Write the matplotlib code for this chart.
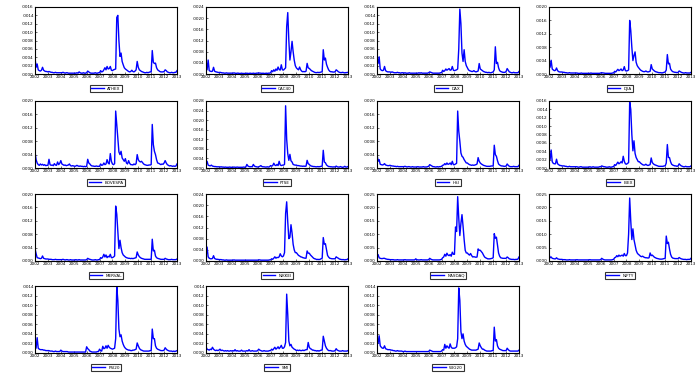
import numpy as np
import matplotlib
matplotlib.use("Agg")
import matplotlib.pyplot as plt
from matplotlib.ticker import FuncFormatter

# monthly readings, Jan 2002 .. Jan 2013, in units of 1e-4
months = np.arange(133)
years = list(range(2002, 2014))

names = ["ATHEX", "CAC40", "DAX", "DJIA", "BOVESPA", "FTSE", "HSI", "IBEX",
         "MERVAL", "NIKKEI", "NASDAQ", "NIFTY", "PSI20", "SMI", "WIG20"]

ymax = [16, 24, 16, 20, 20, 28, 20, 16, 20, 24, 25, 25, 14, 14, 14]
ystep = [2, 4, 2, 4, 4, 4, 4, 2, 4, 4, 5, 5, 2, 2, 2]

s1 = [3.8, 1.6, 2.4, 1.0, 0.8, 0.7, 0.9, 1.6, 0.9, 0.7, 0.6, 0.6,
      0.5, 0.6, 0.5, 0.4, 0.4, 0.3, 0.3, 0.4, 0.3, 0.3, 0.3, 0.3,
      0.3, 0.3, 0.4, 0.3, 0.2, 0.3, 0.3, 0.2, 0.2, 0.2, 0.2, 0.2,
      0.2, 0.2, 0.2, 0.3, 0.2, 0.5, 0.3, 0.2, 0.2, 0.3, 0.2, 0.2,
      0.3, 0.7, 0.5, 0.3, 0.2, 0.2, 0.2, 0.2, 0.3, 0.2, 0.2, 0.3,
      0.3, 0.8, 0.5, 0.6, 1.0, 1.5, 1.0, 1.8, 1.2, 1.3, 1.8, 0.9,
      0.8, 1.0, 1.1, 1.2, 13.5, 14.0, 8.0, 4.2, 5.0, 3.0, 2.2, 1.5,
      1.2, 1.0, 0.8, 0.6, 0.5, 0.6, 0.9, 0.6, 0.5, 0.7, 1.0, 3.0,
      1.6, 1.0, 0.8, 0.6, 0.5, 0.4, 0.3, 0.3, 0.4, 0.3, 0.4, 0.5,
      0.5, 5.6, 2.8, 2.5, 2.6, 1.5, 1.0, 0.8, 0.6, 0.5, 0.5, 0.5,
      0.6, 1.0, 0.8, 0.5, 0.4, 0.3, 0.3, 0.4, 0.3, 0.3, 0.4, 0.4,
      0.8]

s2 = [3.0, 1.5, 5.0, 1.2, 1.0, 0.9, 1.0, 2.4, 1.0, 0.8, 0.7, 0.6,
      0.5, 0.6, 0.5, 0.4, 0.4, 0.3, 0.3, 0.4, 0.3, 0.3, 0.3, 0.3,
      0.3, 0.3, 0.4, 0.3, 0.2, 0.3, 0.3, 0.2, 0.2, 0.3, 0.2, 0.2,
      0.2, 0.2, 0.3, 0.2, 0.2, 0.3, 0.2, 0.2, 0.3, 0.2, 0.2, 0.3,
      0.3, 0.4, 0.3, 0.3, 0.2, 0.3, 0.2, 0.2, 0.3, 0.2, 0.3, 0.3,
      0.4, 1.2, 0.8, 1.5, 1.0, 1.8, 1.3, 2.5, 1.6, 1.4, 3.3, 1.5,
      1.4, 1.8, 2.2, 17.0, 22.0, 12.0, 5.0, 8.0, 11.7, 8.0, 5.0, 3.0,
      2.2, 1.8, 1.5, 2.5, 1.5, 1.0, 0.8, 0.9, 0.8, 1.0, 3.8, 2.2,
      2.0, 1.6, 1.2, 1.0, 0.8, 0.6, 0.5, 0.5, 0.6, 0.5, 0.6, 0.7,
      0.8, 8.7, 5.0, 5.7, 3.5, 2.4, 1.5, 1.0, 0.8, 0.8, 0.7, 0.7,
      0.8, 1.5, 1.2, 0.8, 0.6, 0.5, 0.5, 0.6, 0.5, 0.4, 0.5, 0.5,
      0.6]

s3 = [3.5, 2.5, 4.1, 1.2, 0.9, 0.8, 0.9, 1.8, 0.8, 0.6, 0.5, 0.5,
      0.5, 0.4, 0.5, 0.4, 0.3, 0.3, 0.3, 0.4, 0.3, 0.3, 0.2, 0.3,
      0.3, 0.2, 0.3, 0.2, 0.2, 0.2, 0.3, 0.2, 0.2, 0.2, 0.2, 0.2,
      0.2, 0.2, 0.2, 0.3, 0.2, 0.3, 0.2, 0.2, 0.2, 0.2, 0.2, 0.2,
      0.3, 0.5, 0.4, 0.3, 0.2, 0.2, 0.2, 0.2, 0.2, 0.2, 0.2, 0.3,
      0.3, 0.9, 0.6, 0.8, 1.2, 0.9, 1.1, 1.3, 0.9, 1.0, 1.8, 0.9,
      0.8, 0.9, 1.0, 1.2, 6.0, 15.5, 12.0, 5.0, 3.0, 5.8, 3.0, 2.0,
      1.5, 1.0, 0.8, 0.7, 0.6, 0.6, 0.8, 0.6, 0.5, 0.6, 0.7, 2.5,
      1.2, 1.0, 0.8, 0.6, 0.5, 0.4, 0.4, 0.3, 0.4, 0.3, 0.3, 0.4,
      0.5, 1.0, 6.5, 2.5, 2.8, 1.5, 0.8, 0.6, 0.5, 0.4, 0.4, 0.4,
      0.6, 1.3, 0.9, 0.5, 0.4, 0.3, 0.3, 0.4, 0.3, 0.3, 0.3, 0.3,
      0.6]

s4 = [3.4, 2.0, 4.1, 1.5, 1.2, 1.0, 1.1, 1.8, 1.0, 0.7, 0.6, 0.6,
      0.6, 0.5, 0.5, 0.4, 0.4, 0.3, 0.3, 0.4, 0.3, 0.3, 0.3, 0.3,
      0.3, 0.3, 0.3, 0.2, 0.2, 0.2, 0.3, 0.2, 0.2, 0.2, 0.2, 0.2,
      0.2, 0.2, 0.2, 0.3, 0.2, 0.2, 0.2, 0.2, 0.2, 0.2, 0.2, 0.2,
      0.3, 0.4, 0.3, 0.3, 0.2, 0.2, 0.2, 0.2, 0.2, 0.2, 0.2, 0.3,
      0.3, 0.8, 0.6, 1.0, 1.4, 1.0, 1.2, 1.5, 1.0, 1.2, 2.2, 1.0,
      0.9, 1.0, 1.2, 16.0, 13.0, 8.0, 4.0, 5.5, 6.6, 3.5, 2.5, 2.0,
      1.6, 1.2, 1.0, 0.8, 0.7, 0.7, 0.9, 0.7, 0.6, 0.7, 0.8, 2.8,
      1.5, 1.2, 0.9, 0.7, 0.6, 0.5, 0.4, 0.4, 0.4, 0.3, 0.4, 0.5,
      0.6, 1.2, 5.8, 3.0, 3.2, 1.5, 1.0, 0.7, 0.6, 0.5, 0.5, 0.4,
      0.5, 0.9, 0.7, 0.5, 0.4, 0.3, 0.3, 0.4, 0.3, 0.3, 0.3, 0.3,
      0.5]

s5 = [4.8, 2.5, 1.5, 1.0, 0.8, 1.2, 0.9, 1.1, 0.8, 1.0, 0.7, 0.8,
      0.8, 2.6, 1.0, 0.8, 0.9, 0.7, 1.3, 0.9, 0.8, 1.8, 1.0, 1.4,
      2.2, 1.2, 1.0, 0.8, 0.9, 0.7, 0.8, 0.9, 1.2, 0.7, 0.6, 0.7,
      0.6, 0.5, 0.6, 0.8, 0.6, 0.5, 0.6, 0.5, 0.5, 0.4, 0.5, 0.4,
      0.5, 2.6, 1.5, 1.2, 0.8, 0.6, 0.6, 0.5, 0.5, 0.6, 0.5, 0.5,
      0.5, 1.2, 0.8, 0.9, 1.5, 1.0, 1.2, 2.5, 1.5, 1.2, 4.3, 2.0,
      1.2, 1.0, 1.3, 17.0, 13.0, 9.0, 4.8, 4.0, 5.0, 3.0, 2.5, 2.0,
      2.8, 1.5, 1.2, 2.2, 1.4, 1.0, 1.0, 0.9, 1.2, 1.0, 1.3, 4.0,
      2.5, 2.0, 1.8, 2.0, 1.6, 1.2, 1.0, 0.9, 0.8, 0.8, 0.9, 0.9,
      1.0, 13.0, 7.0, 5.0, 4.0, 2.5, 1.5, 1.4, 1.2, 1.0, 1.2, 1.1,
      1.5, 2.2, 1.5, 1.0, 0.8, 0.6, 0.7, 0.6, 0.5, 0.6, 0.5, 0.6,
      1.2]

s6 = [1.2, 2.8, 1.2, 1.0, 0.9, 1.2, 0.8, 0.7, 0.6, 0.6, 0.5, 0.5,
      0.5, 0.4, 0.5, 0.4, 0.4, 0.3, 0.4, 0.3, 0.3, 0.3, 0.4, 0.3,
      0.3, 0.3, 0.4, 0.3, 0.3, 0.4, 0.3, 0.3, 0.3, 0.3, 0.3, 0.4,
      0.3, 0.4, 1.5, 0.8, 0.6, 0.5, 0.6, 0.5, 1.5, 0.8, 0.6, 0.5,
      0.4, 0.5, 0.7, 1.0, 0.6, 0.5, 0.5, 0.4, 0.4, 0.5, 0.4, 0.5,
      1.0, 0.8, 1.0, 2.0, 1.2, 1.0, 1.5, 1.0, 2.8, 1.3, 1.0, 1.2,
      1.2, 1.5, 26.0, 12.0, 6.0, 3.2, 5.7, 3.0, 2.5, 1.5, 1.3, 1.2,
      1.2, 1.0, 1.0, 0.9, 0.8, 0.8, 0.7, 0.8, 0.7, 0.8, 3.2, 1.8,
      1.5, 1.0, 0.8, 0.7, 0.6, 0.6, 0.5, 0.5, 0.6, 0.5, 0.6, 0.7,
      0.8, 7.4, 2.5, 2.2, 1.3, 0.9, 0.6, 0.6, 0.5, 0.5, 0.4, 0.5,
      0.4, 0.8, 0.5, 0.4, 0.4, 0.6, 0.4, 0.3, 0.4, 0.7, 0.4, 0.4,
      0.6]

s7 = [4.1, 2.0, 2.5, 1.1, 1.0, 0.9, 1.0, 1.3, 0.9, 0.8, 0.7, 0.7,
      0.8, 0.7, 0.6, 0.6, 0.5, 0.5, 0.4, 0.5, 0.4, 0.4, 0.4, 0.4,
      0.4, 0.4, 0.5, 0.4, 0.3, 0.4, 0.4, 0.3, 0.3, 0.4, 0.3, 0.3,
      0.3, 0.3, 0.4, 0.3, 0.3, 0.3, 0.3, 0.4, 0.3, 0.3, 0.3, 0.4,
      0.5, 1.0, 0.8, 0.6, 0.4, 0.4, 0.3, 0.3, 0.4, 0.3, 0.4, 0.4,
      0.5, 0.8, 0.9, 1.3, 1.0, 1.5, 1.1, 1.2, 1.5, 1.0, 2.0, 1.0,
      1.0, 1.2, 1.4, 17.0, 11.0, 8.0, 4.5, 3.5, 3.2, 2.5, 2.0, 1.5,
      1.5, 1.2, 1.0, 0.9, 0.8, 0.9, 0.8, 0.9, 1.0, 1.2, 3.1, 2.0,
      1.5, 1.2, 1.0, 0.8, 0.7, 0.6, 0.5, 0.5, 0.5, 0.5, 0.6, 0.6,
      0.6, 6.8, 4.0, 3.5, 2.2, 1.2, 0.9, 0.7, 0.6, 0.6, 0.5, 0.5,
      0.6, 1.2, 0.8, 0.5, 0.4, 0.4, 0.4, 0.5, 0.4, 0.4, 0.4, 0.4,
      0.8]

s8 = [3.5, 2.0, 4.3, 1.5, 1.1, 1.0, 1.0, 2.1, 1.0, 0.8, 0.6, 0.6,
      0.5, 0.5, 0.5, 0.4, 0.4, 0.3, 0.3, 0.4, 0.3, 0.3, 0.3, 0.3,
      0.3, 0.3, 0.3, 0.2, 0.2, 0.3, 0.3, 0.2, 0.2, 0.2, 0.2, 0.2,
      0.2, 0.2, 0.3, 0.2, 0.2, 0.3, 0.2, 0.2, 0.2, 0.2, 0.2, 0.3,
      0.3, 0.5, 0.4, 0.3, 0.3, 0.2, 0.2, 0.2, 0.3, 0.2, 0.2, 0.3,
      0.3, 0.8, 0.6, 1.0, 1.4, 1.0, 1.2, 1.5, 1.2, 2.8, 1.6, 1.0,
      0.9, 1.1, 1.3, 15.8, 14.0, 8.0, 4.1, 6.5, 3.5, 2.5, 2.0, 1.5,
      1.5, 1.2, 1.0, 0.8, 0.7, 0.7, 0.9, 0.7, 0.6, 0.7, 0.8, 2.4,
      1.3, 1.0, 0.8, 0.7, 0.6, 0.5, 0.4, 0.4, 0.4, 0.4, 0.4, 0.5,
      0.5, 1.2, 5.6, 2.5, 2.5, 1.5, 0.9, 0.7, 0.6, 0.5, 0.5, 0.4,
      0.5, 1.0, 0.7, 0.5, 0.4, 0.3, 0.3, 0.4, 0.3, 0.3, 0.3, 0.3,
      0.5]

s9 = [3.7, 2.2, 1.0, 0.9, 0.8, 0.7, 0.8, 1.5, 0.8, 0.7, 0.6, 0.6,
      0.6, 0.5, 0.5, 0.5, 0.4, 0.4, 0.4, 0.5, 0.4, 0.4, 0.4, 0.4,
      0.4, 0.4, 0.5, 0.4, 0.3, 0.4, 0.4, 0.3, 0.3, 0.4, 0.3, 0.3,
      0.3, 0.3, 0.4, 0.3, 0.3, 0.4, 0.3, 0.3, 0.3, 0.3, 0.3, 0.3,
      0.4, 0.8, 0.6, 0.5, 0.4, 0.3, 0.3, 0.3, 0.4, 0.3, 0.3, 0.4,
      0.4, 1.0, 0.8, 1.2, 2.0, 1.2, 1.8, 1.0, 1.4, 1.2, 2.0, 1.0,
      1.0, 1.2, 1.5, 16.4, 14.0, 9.0, 3.7, 6.2, 4.0, 2.5, 1.8, 1.5,
      1.2, 1.0, 0.9, 0.8, 0.8, 0.7, 0.8, 0.7, 0.8, 0.9, 1.0, 2.7,
      1.8, 1.3, 1.0, 0.8, 0.7, 0.6, 0.5, 0.5, 0.5, 0.5, 0.5, 0.5,
      0.5, 6.5, 3.0, 3.2, 1.5, 1.0, 0.8, 0.7, 0.6, 0.5, 0.5, 0.5,
      0.5, 0.8, 0.6, 0.5, 0.4, 0.4, 0.4, 0.5, 0.4, 0.4, 0.4, 0.4,
      0.6]

s10 = [1.5, 5.0, 1.5, 1.0, 0.8, 0.8, 0.9, 1.9, 0.9, 0.7, 0.6, 0.6,
       0.5, 0.5, 0.5, 0.4, 0.4, 0.3, 0.3, 0.4, 0.3, 0.3, 0.3, 0.3,
       0.3, 0.3, 0.4, 0.3, 0.3, 0.3, 0.3, 0.3, 0.3, 0.3, 0.3, 0.3,
       0.3, 0.3, 0.3, 0.3, 0.3, 0.3, 0.3, 0.3, 0.3, 0.3, 0.3, 0.3,
       0.3, 0.4, 0.4, 0.3, 0.3, 0.3, 0.3, 0.3, 0.3, 0.3, 0.3, 0.4,
       0.4, 0.8, 0.6, 1.0, 1.5, 1.0, 1.3, 1.2, 1.5, 2.6, 1.8, 1.5,
       1.8, 3.0, 17.0, 21.2, 14.0, 8.0, 8.5, 13.0, 10.0, 6.0, 4.0, 3.0,
       3.0, 2.5, 2.0, 1.8, 1.5, 1.4, 1.2, 1.1, 1.0, 1.0, 3.6, 2.8,
       2.8, 2.2, 1.8, 1.4, 1.0, 0.8, 0.7, 0.5, 0.6, 0.5, 0.6, 0.8,
       1.0, 8.4, 6.0, 6.2, 4.0, 2.0, 1.4, 1.0, 0.9, 0.8, 0.8, 0.8,
       0.8, 1.5, 1.2, 1.0, 0.7, 0.6, 0.5, 0.5, 0.5, 0.4, 0.5, 0.5,
       0.8]

s11 = [1.5, 2.4, 1.2, 1.0, 0.9, 0.9, 1.0, 1.0, 0.8, 0.7, 0.6, 0.6,
       0.5, 0.5, 0.5, 0.5, 0.4, 0.4, 0.4, 0.5, 0.4, 0.4, 0.4, 0.4,
       0.4, 0.4, 0.5, 0.4, 0.4, 0.4, 0.4, 0.4, 0.4, 0.4, 0.4, 0.4,
       0.8, 0.5, 0.4, 0.4, 0.4, 0.5, 0.4, 0.4, 0.4, 0.4, 0.4, 0.4,
       0.5, 1.0, 0.7, 0.5, 0.4, 0.4, 0.4, 0.4, 0.4, 0.4, 0.4, 0.5,
       0.6, 1.2, 1.5, 2.5, 1.8, 2.9, 2.2, 2.0, 2.4, 1.8, 3.3, 2.5,
       2.5, 12.7, 11.0, 24.0, 16.0, 9.5, 14.0, 17.3, 13.0, 8.0, 4.0, 3.0,
       3.0, 2.5, 2.2, 2.8, 2.0, 1.5, 1.6, 1.5, 1.4, 1.5, 4.5, 4.0,
       4.0, 3.5, 3.0, 2.2, 1.5, 1.2, 1.0, 0.8, 0.8, 0.8, 0.9, 1.0,
       1.2, 10.2, 8.5, 8.9, 6.0, 3.0, 1.8, 1.2, 1.1, 1.0, 1.0, 1.0,
       1.0, 1.5, 1.2, 0.8, 0.7, 0.6, 0.6, 0.6, 0.5, 0.6, 0.6, 0.7,
       1.5]

s12 = [2.5, 1.2, 1.5, 1.0, 0.9, 0.8, 0.8, 1.2, 0.8, 0.7, 0.6, 0.6,
       0.6, 0.5, 0.5, 0.5, 0.4, 0.4, 0.4, 0.5, 0.4, 0.4, 0.4, 0.4,
       0.4, 0.4, 0.5, 0.4, 0.4, 0.4, 0.4, 0.4, 0.4, 0.4, 0.4, 0.4,
       0.4, 0.4, 0.5, 0.4, 0.4, 0.4, 0.4, 0.4, 0.4, 0.4, 0.4, 0.4,
       0.5, 1.0, 0.7, 0.5, 0.4, 0.4, 0.4, 0.4, 0.4, 0.4, 0.4, 0.5,
       0.6, 1.2, 1.4, 2.0, 1.6, 2.2, 1.8, 2.0, 2.2, 1.8, 2.8, 2.0,
       2.0, 3.0, 10.0, 23.5, 15.0, 8.0, 12.0, 8.0, 6.0, 4.0, 3.0, 2.5,
       2.2, 1.8, 1.6, 1.8, 1.5, 1.3, 1.2, 1.2, 1.1, 1.2, 3.0, 2.0,
       2.2, 1.8, 1.4, 1.2, 1.0, 0.9, 0.8, 0.7, 0.7, 0.7, 0.8, 0.9,
       1.0, 9.3, 6.5, 7.0, 4.5, 2.5, 1.5, 1.1, 1.0, 0.9, 0.9, 0.9,
       0.9, 1.3, 1.0, 0.8, 0.7, 0.6, 0.6, 0.6, 0.5, 0.6, 0.6, 0.6,
       1.0]

s13 = [2.4, 1.0, 3.2, 1.0, 0.8, 0.7, 0.7, 0.7, 0.6, 0.6, 0.5, 0.5,
       0.5, 0.5, 0.4, 0.4, 0.4, 0.3, 0.3, 0.4, 0.3, 0.3, 0.3, 0.3,
       0.6, 0.4, 0.3, 0.3, 0.3, 0.3, 0.3, 0.2, 0.2, 0.2, 0.2, 0.2,
       0.2, 0.2, 0.2, 0.2, 0.2, 0.2, 0.2, 0.2, 0.2, 0.2, 0.2, 0.2,
       1.3, 0.9, 0.7, 0.4, 0.3, 0.2, 0.2, 0.2, 0.2, 0.2, 0.3, 0.3,
       0.8, 0.5, 0.4, 1.4, 0.9, 1.0, 1.5, 1.0, 1.6, 1.2, 1.0, 0.9,
       0.8, 0.9, 1.0, 3.0, 13.9, 11.0, 5.0, 3.4, 3.8, 2.5, 1.8, 1.3,
       1.0, 0.8, 0.7, 0.6, 0.6, 0.5, 0.5, 0.6, 0.6, 0.7, 0.8, 2.1,
       1.5, 1.0, 0.7, 0.6, 0.5, 0.4, 0.4, 0.4, 0.4, 0.4, 0.4, 0.5,
       0.5, 5.0, 3.0, 3.0, 1.5, 1.0, 0.8, 0.7, 0.6, 0.5, 0.5, 0.5,
       0.6, 1.1, 0.8, 0.6, 0.5, 0.4, 0.4, 0.4, 0.3, 0.4, 0.3, 0.4,
       0.5]

s14 = [1.3, 0.8, 0.7, 0.6, 0.8, 0.7, 1.2, 0.8, 0.6, 0.5, 0.6, 0.5,
       0.6, 0.8, 0.5, 0.6, 0.5, 0.4, 0.5, 0.4, 0.5, 0.4, 0.4, 0.5,
       0.4, 0.5, 0.4, 0.7, 0.4, 0.5, 0.4, 0.4, 0.4, 0.6, 0.4, 0.4,
       0.4, 0.4, 0.5, 0.4, 0.7, 0.4, 0.4, 0.5, 0.4, 0.4, 0.4, 0.4,
       0.5, 0.8, 0.6, 0.5, 0.4, 0.4, 0.5, 0.4, 0.4, 0.4, 0.4, 0.5,
       0.5, 0.8, 0.6, 0.9, 1.2, 0.8, 1.0, 1.3, 0.9, 1.2, 1.6, 1.0,
       1.0, 1.3, 2.2, 12.3, 8.0, 2.5, 1.5, 1.8, 1.2, 1.0, 0.8, 0.7,
       0.5, 0.6, 0.5, 0.6, 0.5, 0.5, 0.6, 0.5, 0.6, 0.7, 0.7, 2.2,
       1.2, 0.9, 0.8, 0.6, 0.6, 0.5, 0.5, 0.4, 0.5, 0.4, 0.5, 0.6,
       0.6, 3.5, 2.5, 1.5, 1.0, 0.7, 0.5, 0.5, 0.5, 0.4, 0.4, 0.4,
       0.5, 0.9, 0.6, 0.5, 0.4, 0.4, 0.4, 0.5, 0.4, 0.4, 0.4, 0.4,
       0.5]

s15 = [3.1, 2.0, 3.6, 1.5, 1.2, 1.0, 1.0, 1.5, 0.9, 0.8, 0.7, 0.7,
       0.7, 0.6, 0.6, 0.5, 0.5, 0.4, 0.4, 0.5, 0.4, 0.4, 0.4, 0.4,
       0.3, 0.3, 0.4, 0.3, 0.3, 0.3, 0.3, 0.3, 0.3, 0.3, 0.3, 0.3,
       0.3, 0.3, 0.3, 0.3, 0.3, 0.3, 0.3, 0.3, 0.3, 0.3, 0.3, 0.3,
       0.3, 0.6, 0.5, 0.4, 0.3, 0.3, 0.3, 0.3, 0.3, 0.3, 0.3, 0.3,
       0.4, 0.7, 0.6, 1.8, 1.0, 1.5, 1.2, 1.0, 1.9, 1.2, 1.0, 1.0,
       1.0, 1.1, 1.3, 3.0, 13.6, 11.0, 4.5, 3.0, 4.0, 2.5, 1.8, 1.4,
       1.2, 1.0, 0.8, 0.7, 0.6, 0.6, 0.6, 0.6, 0.6, 0.7, 0.8, 2.1,
       1.5, 1.1, 0.8, 0.8, 0.6, 0.5, 0.4, 0.4, 0.4, 0.4, 0.4, 0.5,
       0.5, 5.4, 2.5, 2.8, 1.5, 1.0, 0.8, 0.7, 0.6, 0.5, 0.5, 0.5,
       0.5, 1.0, 0.7, 0.5, 0.4, 0.4, 0.4, 0.4, 0.4, 0.4, 0.4, 0.4,
       0.6]

series = [s1, s2, s3, s4, s5, s6, s7, s8, s9, s10, s11, s12, s13, s14, s15]

fig = plt.figure(figsize=(7, 3.73), dpi=100)
fig.patch.set_facecolor('white')

col_left = [35, 206, 377, 549]
row_top = [7, 101, 194, 286]
w_px, h_px = 142, 67
W, H = 700, 373

fmt = FuncFormatter(lambda v, p: ('%.4f' % v).lstrip('0') if v >= 0 else '')

for i, s in enumerate(series):
    r, c = divmod(i, 4)
    ax = fig.add_axes([col_left[c] / W, 1 - (row_top[r] + h_px) / H,
                       w_px / W, h_px / H])
    x = 2002 + months / 12.0
    y = np.array(s) * 1e-4
    ax.plot(x, y, color='#0000ff', lw=1.0, label=names[i])
    ax.set_xlim(2002, 2013)
    ax.set_ylim(0, ymax[i] * 1e-4)
    ax.set_xticks(years)
    ax.set_xticklabels([str(yr) for yr in years])
    ax.set_yticks(np.arange(0, ymax[i] + 0.01, ystep[i]) * 1e-4)
    ax.yaxis.set_major_formatter(fmt)
    ax.tick_params(labelsize=3, length=1.5, width=0.4, pad=1, direction='in')
    for sp in ax.spines.values():
        sp.set_linewidth(0.8)
    leg = ax.legend(loc='upper center', bbox_to_anchor=(0.5, -0.14),
                    fontsize=3, frameon=True, fancybox=False,
                    handlelength=3, borderpad=0.3)
    leg.get_frame().set_edgecolor('black')
    leg.get_frame().set_linewidth(0.8)

fig.savefig('out.png', dpi=100)
